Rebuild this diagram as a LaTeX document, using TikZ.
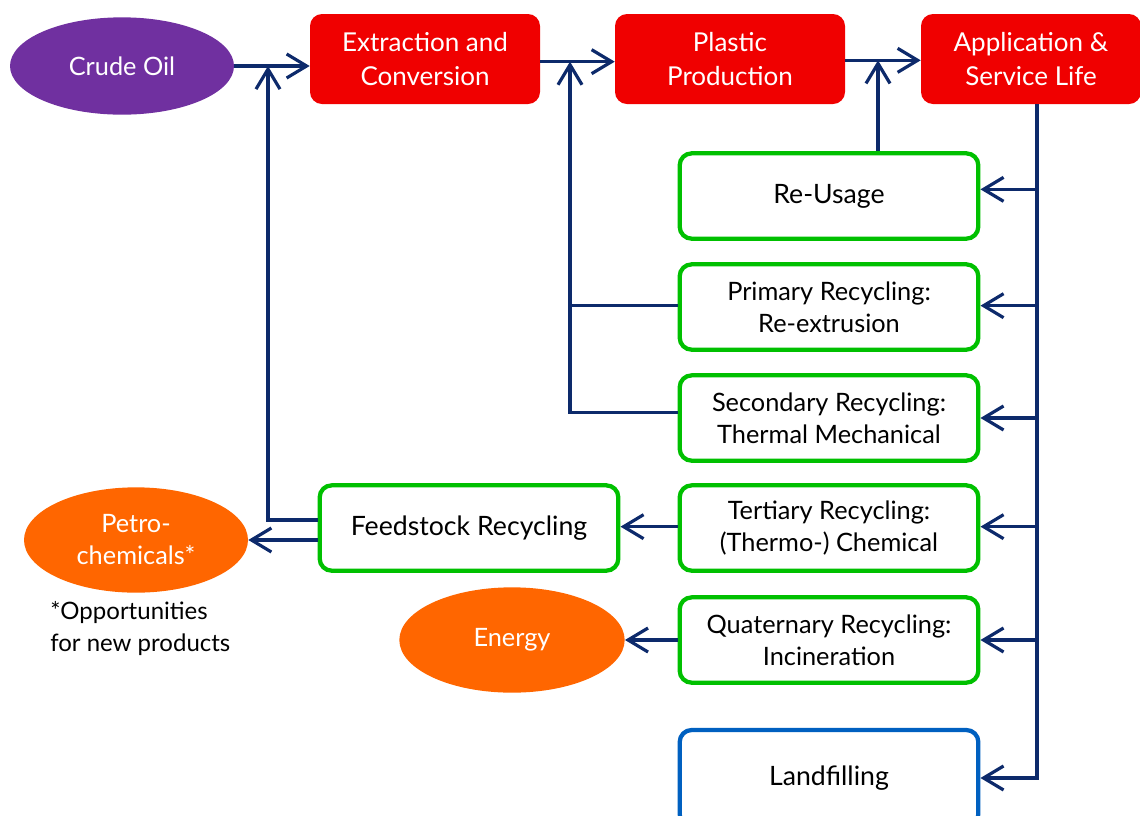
\documentclass[tikz,border=0pt]{standalone}
\usepackage{fontspec}
\setmainfont{Lato}
\usetikzlibrary{arrows.meta,shapes.geometric}
\definecolor{navy}{HTML}{0D2A6B}
\definecolor{boxred}{HTML}{F00000}
\definecolor{oilpurple}{HTML}{7030A0}
\definecolor{prodorange}{HTML}{FF6600}
\definecolor{recgreen}{HTML}{00C000}
\definecolor{landblue}{HTML}{0060C0}
\tikzset{
  stagebox/.style={rectangle, rounded corners=9pt, fill=boxred, text=white,
    minimum width=172.5pt, minimum height=67.5pt, align=center, inner sep=2pt,
    font=\fontsize{19.5}{25.5}\selectfont},
  recbox/.style={rectangle, rounded corners=9pt, draw=recgreen, line width=3.2pt, fill=white,
    minimum width=224pt, minimum height=64pt, align=center, inner sep=2pt,
    font=\fontsize{19}{24}\selectfont},
  bigtext/.style={font=\fontsize{20}{24}\selectfont},
  blob/.style={ellipse, text=white, minimum width=168pt, minimum height=74pt, align=center,
    inner sep=1pt, font=\fontsize{19}{24}\selectfont},
  arr/.style={draw=navy, line width=2.4pt, -{Straight Barb[length=15pt,width=18pt,line width=2.4pt]}},
  conn/.style={draw=navy, line width=2.4pt},
}
\begin{document}
\begin{tikzpicture}[x=0.75pt,y=-0.75pt]
\useasboundingbox (0,0) rectangle (1140,815);
\clip (0,0) rectangle (1140,815);
% top row
\node[blob, fill=oilpurple, minimum width=168pt, minimum height=73pt] (crude) at (122,66) {Crude Oil};
\node[stagebox] (extr) at (425,59) {Extraction and\\Conversion};
\node[stagebox] (plast) at (730,59) {Plastic\\Production};
\node[stagebox, minimum width=165pt] (app) at (1031,59) {Application \&\\Service Life};
% recycling column
\node[recbox, bigtext] (reuse) at (829,196) {Re-Usage};
\node[recbox] (prim) at (829,307) {Primary Recycling:\\Re-extrusion};
\node[recbox] (sec) at (829,418) {Secondary Recycling:\\Thermal Mechanical};
\node[recbox] (tert) at (829,528) {Tertiary Recycling:\\(Thermo-) Chemical};
\node[recbox] (quat) at (829,640) {Quaternary Recycling:\\Incineration};
\node[recbox, bigtext, draw=landblue, minimum height=72pt] (land) at (829,778) {Landfilling};
\node[recbox, bigtext] (feed) at (469,528) {Feedstock Recycling};
% products
\node[blob, fill=prodorange, minimum width=168pt, minimum height=79pt] (petro) at (136,540) {Petro-\\chemicals*};
\node[blob, fill=prodorange, minimum width=169pt, minimum height=79pt] (energy) at (512,640) {Energy};
\node[anchor=north west, align=left, font=\fontsize{18}{24}\selectfont, inner sep=0pt] (note) at (50,601) {*Opportunities\\for new products};
% junction coordinates
\coordinate (j1) at (268,0);
\coordinate (j2) at (570,0);
\coordinate (j3) at (878,0);
\coordinate (j4) at (1037,0);
% top arrows
\draw[arr] (crude.east) -- (crude.east -| extr.west);
\draw[arr] ([yshift=-2pt]extr.east) -- ([yshift=-2pt]plast.west);
\draw[arr] ([yshift=-1pt]plast.east) -- ([yshift=-1pt]app.west);
% feedback lines
\draw[arr] ([yshift=6pt]feed.west) -- ([yshift=6pt]feed.west -| j1) -- (j1 |- crude.east);
\draw[arr] ([yshift=-9pt]feed.west) -- (petro.east);
\draw[arr] ([yshift=4pt]sec.west) -- ([yshift=4pt]sec.west -| j2) -- ([yshift=-2pt]j2 |- extr.east);
\draw[conn] ([yshift=1pt]prim.west) -- ([yshift=1pt]prim.west -| j2);
\draw[arr] (reuse.north -| j3) -- ([yshift=-1pt]j3 |- plast.east);
% distribution from application
\draw[arr] (app.south -| j4) -- (j4 |- land.east) -- (land.east);
\draw[arr] ([yshift=5pt]reuse.east -| j4) -- ([yshift=5pt]reuse.east);
\draw[arr] ([yshift=1pt]prim.east -| j4) -- ([yshift=1pt]prim.east);
\draw[arr] (sec.east -| j4) -- (sec.east);
\draw[arr] ([yshift=1pt]tert.east -| j4) -- ([yshift=1pt]tert.east);
\draw[arr] (quat.east -| j4) -- (quat.east);
% outputs
\draw[arr] ([yshift=1pt]tert.west) -- ([yshift=1pt]feed.east);
\draw[arr] (quat.west) -- (energy.east);
\end{tikzpicture}
\end{document}
